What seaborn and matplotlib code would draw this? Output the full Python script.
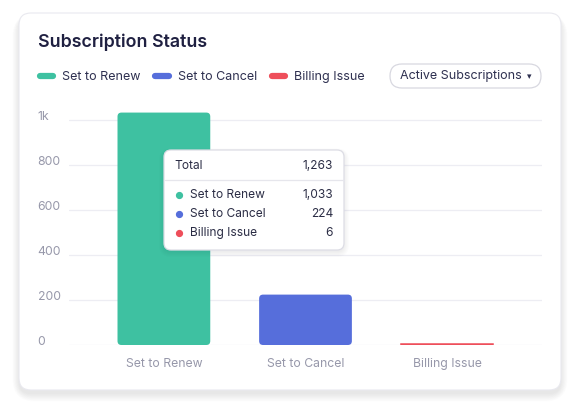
import matplotlib
matplotlib.use("Agg")
import matplotlib.pyplot as plt
import matplotlib.transforms as mtransforms
from matplotlib.patches import FancyBboxPatch
from matplotlib.lines import Line2D
import seaborn as sns
import pandas as pd

# data
categories = ["Set to Renew", "Set to Cancel", "Billing Issue"]
values = [1033, 224, 6]
colors = ["#3ec1a1", "#566edb", "#ee4e5a"]
yticks = [0, 200, 400, 600, 800, 1000]
ytick_labels = ["0", "200", "400", "600", "800", "1k"]
total_label = "Total"
dropdown_label = "Active Subscriptions"

df = pd.DataFrame({"status": categories, "count": values})

W, H = 580, 415
sns.set_style("white")
plt.rcParams["font.family"] = ["Inter", "DejaVu Sans"]

fig = plt.figure(figsize=(W / 100, H / 100), dpi=100)
fig.patch.set_facecolor("white")

# pixel coords, origin top-left
P = mtransforms.Affine2D().scale(1 / W, -1 / H).translate(0, 1) + fig.transFigure

# card shadow + card
for i in range(12):
    fig.patches.append(FancyBboxPatch(
        (19 - i * 0.6, 17 - i * 0.3), 542 + i * 1.2, 377 + i * 1.0,
        boxstyle="round,pad=0,rounding_size=%f" % (12 + i),
        transform=P, facecolor="#1e2046", edgecolor="none",
        alpha=0.006, zorder=-12))
fig.patches.append(FancyBboxPatch(
    (19, 13), 542, 377, boxstyle="round,pad=0,rounding_size=12",
    transform=P, facecolor="white", edgecolor="#e9e9ef", linewidth=0.8,
    zorder=-10))

ax = fig.add_axes([69 / W, 1 - 345 / H, 473 / W, (345 - 111) / H])
ax.patch.set_visible(False)

sns.barplot(data=df, x="status", y="count", hue="status", palette=colors,
            saturation=1, width=0.655, legend=False, ax=ax, zorder=3)

# rounded corners for the taller bars, thin bars get a visible edge
for patch in list(ax.patches):
    x, y = patch.get_x(), patch.get_y()
    w, h = patch.get_width(), patch.get_height()
    fc = patch.get_facecolor()
    if h > 40:
        patch.remove()
        ax.add_patch(FancyBboxPatch(
            (x, y), w, h, boxstyle="round,pad=0,rounding_size=0.028",
            mutation_aspect=1040 / 234 * 142,
            facecolor=fc, edgecolor="none", zorder=3))
    else:
        patch.set_edgecolor(fc)
        patch.set_linewidth(1.1)
        patch.set_zorder(4)

ax.set_xlim(-0.67, 2.67)
ax.set_ylim(0, 1040)
ax.set_yticks(yticks)
ax.set_yticklabels(ytick_labels)
ax.grid(axis="y", color="#ededf3", linewidth=0.9, zorder=0)
ax.set_axisbelow(True)
sns.despine(ax=ax, left=True, bottom=True)
ax.set_xlabel("")
ax.set_ylabel("")
ax.tick_params(axis="both", length=0, colors="#9798aa", labelsize=8.8)
ax.tick_params(axis="y", pad=22.5)
ax.tick_params(axis="x", pad=9.5)
for lab in ax.get_yticklabels():
    lab.set_ha("left")
    lab.set_va("baseline")

# title
fig.text(38 / W, 1 - 42 / H, "Subscription Status", fontsize=12.8,
         fontweight="semibold", color="#1f2041", va="center", ha="left")

# legend
handles = [Line2D([0], [0], color=c, lw=4.5, solid_capstyle="round")
           for c in colors]
leg = fig.legend(handles, categories, loc="center left",
                 bbox_to_anchor=(40 / W, 1 - 77 / H), ncol=3, frameon=False,
                 fontsize=9, handlelength=1.05, handletextpad=0.75,
                 columnspacing=1.15, borderpad=0, borderaxespad=0)
for t in leg.get_texts():
    t.set_color("#2e3050")

# dropdown pill
fig.patches.append(FancyBboxPatch(
    (390, 64), 151, 24, boxstyle="round,pad=0,rounding_size=12",
    transform=P, facecolor="white", edgecolor="#d8d8e0", linewidth=0.9,
    zorder=2))
fig.text(461, 76, dropdown_label, transform=P, fontsize=9,
         color="#2e3050", ha="center", va="center", zorder=3)
fig.text(529, 76.5, "\u25be", transform=P, fontsize=6.5,
         color="#2e3050", ha="center", va="center", zorder=3,
         family=["DejaVu Sans"])

# tooltip
for i in range(6):
    fig.patches.append(FancyBboxPatch(
        (164 - i, 151 - i * 0.5), 180 + 2 * i, 101 + i * 1.5,
        boxstyle="round,pad=0,rounding_size=%f" % (7 + i),
        transform=P, facecolor="#1e2046", edgecolor="none",
        alpha=0.012, zorder=4))
fig.patches.append(FancyBboxPatch(
    (164, 150), 180, 100, boxstyle="round,pad=0,rounding_size=7",
    transform=P, facecolor="white", edgecolor="#dddde5", linewidth=0.9,
    zorder=5))
fig.lines.append(Line2D([164.5, 343.5], [180, 180], transform=P,
                        color="#e6e6ec", linewidth=0.9, zorder=6))
tip_color = "#2b2d45"
fig.text(174, 166, total_label, transform=P, fontsize=8.6, color=tip_color,
         ha="left", va="center", zorder=6)
fig.text(333, 166, f"{sum(values):,}", transform=P, fontsize=8.6,
         color=tip_color, ha="right", va="center", zorder=6)
for i, (cat, val, c) in enumerate(zip(categories, values, colors)):
    yy = 195 + i * 19
    fig.lines.append(Line2D([179], [yy], transform=P, marker="o",
                            markersize=4.2, color=c, linestyle="none",
                            zorder=6))
    fig.text(190, yy, cat, transform=P, fontsize=8.6, color=tip_color,
             ha="left", va="center", zorder=6)
    fig.text(333, yy, f"{val:,}", transform=P, fontsize=8.6, color=tip_color,
             ha="right", va="center", zorder=6)

fig.savefig("out.png", dpi=100, facecolor="white")
plt.close(fig)
